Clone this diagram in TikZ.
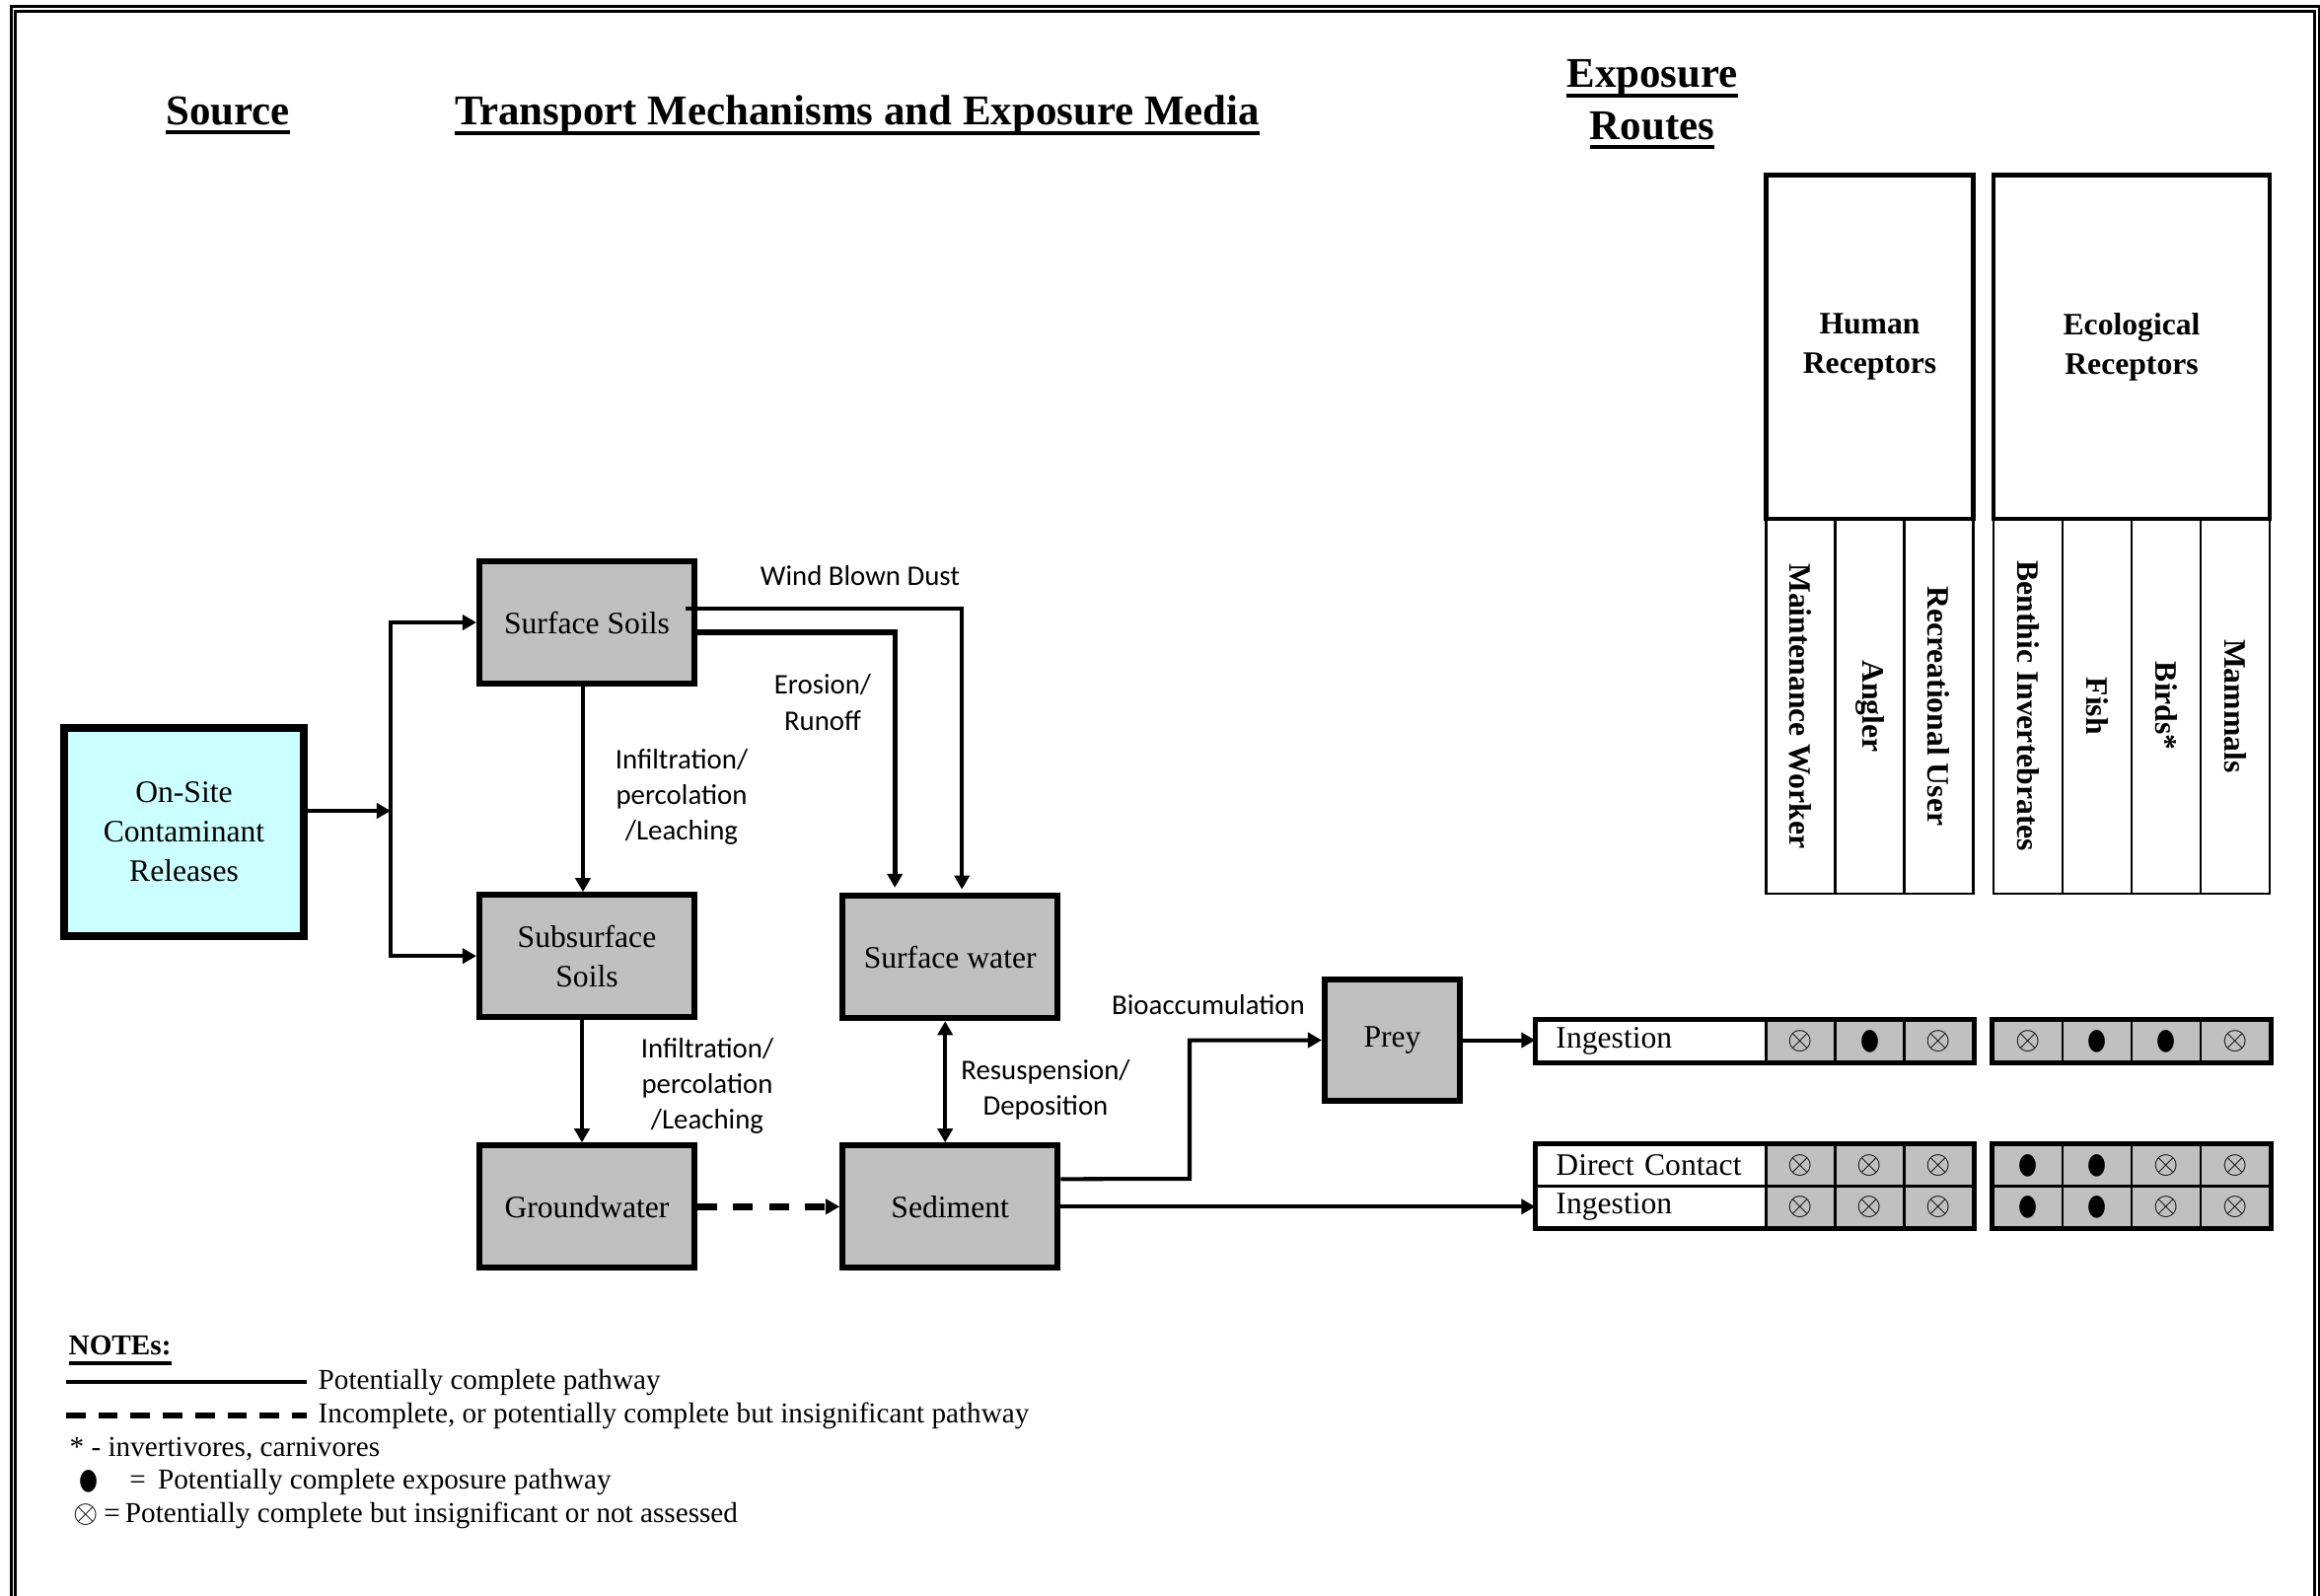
\documentclass[tikz,border=0pt]{standalone}
\usepackage{fontspec}
\setmainfont{Liberation Serif}
\newfontfamily\calibri{Carlito}
\newfontfamily\dejavu{DejaVu Sans}
\usepackage{graphicx}
\usepackage{tikz}
\usetikzlibrary{
  arrows.meta,
  positioning,
  calc
}
\definecolor{mediagrey}{RGB}{192, 192, 192}
\definecolor{sourcecyan}{RGB}{204, 255, 255}
\definecolor{cellgrey}{RGB}{192, 192, 192}
\definecolor{linecolor}{RGB}{0, 0, 0}
\newcommand{\xo}{{\fontsize{8.7}{9}\selectfont$\otimes$}}
\newcommand{\bdot}{{\dejavu\fontsize{7.3}{8}\selectfont\scalebox{0.85}[1.15]{●}}}
\newcommand{\ttlline}[1]{\setbox0\hbox{#1}\rlap{\rule[-2.8pt]{\wd0}{1.1pt}}\box0}
\tikzset{
boxtext/.style={
  align=center,
  font=\fontsize{9}{11.4}\selectfont
},
pathlabel/.style={
  align=center,
  font=\calibri\fontsize{8.2}{10.3}\selectfont
},
titlelabel/.style={
  align=center,
  font=\bfseries\fontsize{12.2}{15}\selectfont
},
notetext/.style={
  anchor=west,
  inner sep=0pt,
  font=\fontsize{8.3}{10}\selectfont
},
frameline/.style={
  draw=linecolor,
  line width=0.75pt
}
}

\begin{document}
\begin{tikzpicture}[
    x=0.01cm, y=-0.01cm,
    % box styles
    mediabox/.style={
        rectangle,
        draw=linecolor,
        line width=1.7pt,
        fill=mediagrey,
        minimum width=2.18cm,
        minimum height=1.24cm,
        inner sep=0pt,
        boxtext
    },
    sourcebox/.style={mediabox, fill=sourcecyan, line width=2.2pt, minimum width=2.43cm, minimum height=2.11cm},
    preybox/.style={mediabox, minimum width=1.37cm, minimum height=1.23cm},
    headbox/.style={rectangle, draw=linecolor, line width=1.3pt, minimum height=3.485cm, align=center, font=\bfseries\fontsize{9}{11.4}\selectfont},
    colbox/.style={rectangle, draw=linecolor, line width=0.6pt, rotate=-90, minimum width=3.795cm, minimum height=0.70cm, inner sep=0pt, font=\bfseries\fontsize{9}{11}\selectfont},
    routecell/.style={rectangle, draw=linecolor, line width=0.6pt, fill=cellgrey, minimum width=0.70cm, minimum height=0.42cm, inner sep=0pt},
    routelabel/.style={rectangle, draw=linecolor, line width=0.6pt, minimum height=0.42cm, text width=1.93cm, inner xsep=0.2cm, inner ysep=0pt, align=left, font=\fontsize{9}{10}\selectfont},
    routeframe/.style={draw=linecolor, line width=1.4pt},
    % arrow styles
    arrow/.style={-{Triangle[length=4pt, width=4.3pt]}, line width=1.15pt, linecolor},
    biarrow/.style={{Triangle[length=4pt, width=4.3pt]}-{Triangle[length=4pt, width=4.3pt]}, line width=1.15pt, linecolor},
    dasharrow/.style={arrow, line width=2pt, dash pattern=on 5.7pt off 4.6pt},
    keyline/.style={line width=1.3pt, linecolor},
]
\useasboundingbox (0,0) rectangle (2352,1617);

% ============================================================================
% FRAME
% ============================================================================
\draw[frameline] (11.3,1650) -- (11.3,6.2) -- (2351,6.2) -- (2351,1650);
\draw[frameline, line width=0.9pt] (15.7,1650) -- (15.7,11.2) -- (2346.5,11.2) -- (2346.5,1650);

% ============================================================================
% TITLES
% ============================================================================
\node[titlelabel] (srctitle) at (231,117) {\ttlline{Source}};
\node[titlelabel] (medtitle) at (869,117) {\ttlline{Transport Mechanisms and Exposure Media}};
\node[titlelabel] (routetitle) at (1675,106) {\ttlline{Exposure}\\\ttlline{Routes}};

% ============================================================================
% SOURCE AND MEDIA
% ============================================================================
\node[sourcebox] (src) at (186.5,843.5) {On-Site\\Contaminant\\Releases};

\node[mediabox] (ss) at (595,631) {Surface Soils};
\node[mediabox, below=2.08cm of ss] (sub) {Subsurface\\Soils};
\node[mediabox, below=1.24cm of sub] (gw) {Groundwater};
\node[mediabox, right=1.44cm of gw] (sed) {Sediment};
\node[mediabox, above=1.23cm of sed] (sw) {Surface water};
\node[preybox] (prey) at (1411.5,1054.5) {Prey};

% transport labels
\node[pathlabel] (windlbl) at (872,584) {Wind Blown Dust};
\node[pathlabel] (erolbl) at (834,712) {Erosion/\\Runoff};
\node[pathlabel] (inflbl1) at (691,808) {Infiltration/\\percolation\\/Leaching};
\node[pathlabel] (inflbl2) at (717,1101) {Infiltration/\\percolation\\/Leaching};
\node[pathlabel] (reslbl) at (1060,1105) {Resuspension/\\Deposition};
\node[pathlabel] (biolbl) at (1225,1019) {Bioaccumulation};

% ============================================================================
% RECEPTORS
% ============================================================================
\foreach \name [count=\i] in {Maintenance Worker, Angler, Recreational User}
    \node[colbox] (hcol\i) at ({1755.5+70*\i},715.75) {\name};
\foreach \name [count=\i] in {Benthic Invertebrates, Fish, Birds*, Mammals}
    \node[colbox] (ecol\i) at ({1986+70*\i},715.75) {\name};

\node[headbox, minimum width=2.10cm] (human) at (1895.5,351.75) {Human\\Receptors};
\node[headbox, minimum width=2.80cm] (eco) at (2161,351.75) {Ecological\\Receptors};

% ============================================================================
% EXPOSURE ROUTES
% ============================================================================
\node[routelabel] (lab1) at (1674,1055.5) {Ingestion};
\foreach \s [count=\i] in {\xo,\bdot,\xo}
    \node[routecell] (h1\i) at ({1755.5+70*\i},1055.5) {\s};
\foreach \s [count=\i] in {\xo,\bdot,\bdot,\xo}
    \node[routecell] (e1\i) at ({1986+70*\i},1055.5) {\s};

\node[routelabel] (lab2) at (1674,1181.5) {Direct Contact};
\foreach \s [count=\i] in {\xo,\xo,\xo}
    \node[routecell] (h2\i) at ({1755.5+70*\i},1181.5) {\s};
\foreach \s [count=\i] in {\bdot,\bdot,\xo,\xo}
    \node[routecell] (e2\i) at ({1986+70*\i},1181.5) {\s};

\node[routelabel] (lab3) at (1674,1223.5) {Ingestion};
\foreach \s [count=\i] in {\xo,\xo,\xo}
    \node[routecell] (h3\i) at ({1755.5+70*\i},1223.5) {\s};
\foreach \s [count=\i] in {\bdot,\bdot,\xo,\xo}
    \node[routecell] (e3\i) at ({1986+70*\i},1223.5) {\s};

\draw[routeframe] (lab1.north west) rectangle (h13.south east);
\draw[routeframe] (e11.north west) rectangle (e14.south east);
\draw[routeframe] (lab2.north west) rectangle (h33.south east);
\draw[routeframe] (e21.north west) rectangle (e34.south east);

% ============================================================================
% CONNECTORS
% ============================================================================
% Source -> soils
\coordinate (split) at (396,822);
\draw[arrow] (src.east |- split) -- (split);
\draw[arrow] (split) |- (ss.west);
\draw[arrow] (split) |- (sub.west);

% Surface soils -> surface water
\draw[arrow, line width=1pt, shorten >=1pt] ($(ss.east)+(-12,-14)$) -| ($(sw.north)+(12,0)$);
\draw[arrow, line width=1.5pt, shorten >=1.5pt] ($(ss.east)+(0,10)$) -| ($(sw.north)+(-56,0)$);

% Leaching
\draw[arrow] ($(ss.south)+(-4,0)$) -- ($(sub.north)+(-4,0)$);
\draw[arrow] ($(sub.south)+(-5,0)$) -- ($(gw.north)+(-5,0)$);

% Groundwater -> sediment
\draw[dasharrow] (gw.east) -- (sed.west);

% Surface water <-> sediment
\draw[biarrow] ($(sw.south)+(-5,0)$) -- ($(sed.north)+(-5,0)$);

% Sediment -> prey -> routes
\coordinate (bioturn) at (1206,1195);
\draw[arrow] ($(sed.east)+(0,-28)$) -- (bioturn) |- (prey.west);
\draw[arrow] (prey.east) -- (prey.east -| lab1.west);
\draw[arrow] (sed.east) -- (sed.east -| lab3.west);

% ============================================================================
% NOTES
% ============================================================================
\node[notetext, font=\bfseries\fontsize{8.3}{10}\selectfont] (notes) at (69,1369) {\ttlline{NOTEs:}};
\node[notetext] (key1) at (322,1401) {Potentially complete pathway};
\node[notetext] (key2) at (322,1435) {Incomplete, or potentially complete but insignificant pathway};
\node[notetext] (key3) at (70,1469) {* - invertivores, carnivores};
\node[notetext] (key4) at (80,1502) {\bdot\hspace{9pt}=\hspace{3.5pt}Potentially complete exposure pathway};
\node[notetext] (key5) at (74,1536) {\xo\hspace{1.5pt}=\hspace{1.5pt}Potentially complete but insignificant or not assessed};

\draw[keyline] ($(key1.west)+(-255,0)$) -- ($(key1.west)+(-11,0)$);
\draw[keyline, line width=1.8pt, dash pattern=on 5.6pt off 3.7pt] ($(key2.west)+(-255,0)$) -- ($(key2.west)+(-11,0)$);

\end{tikzpicture}
\end{document}
